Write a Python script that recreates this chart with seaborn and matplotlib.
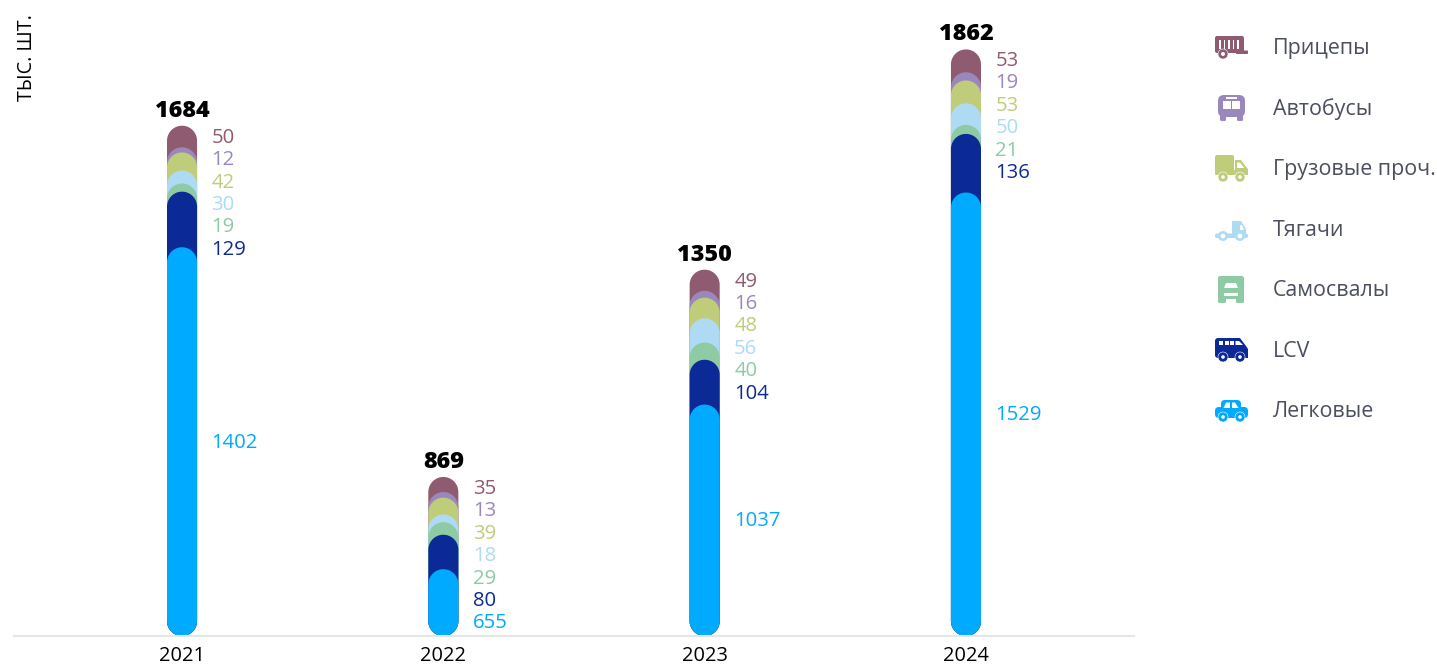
import numpy as np
import pandas as pd
import matplotlib
matplotlib.use('Agg')
import matplotlib.pyplot as plt
from matplotlib.patches import Circle, FancyBboxPatch, Polygon, Rectangle
import seaborn as sns

years = ['2021', '2022', '2023', '2024']
totals = [1684, 869, 1350, 1862]
# top of the stack first
types = ['Прицепы', 'Автобусы', 'Грузовые проч.', 'Тягачи', 'Самосвалы', 'LCV', 'Легковые']
trailers = [50, 35, 49, 53]
buses = [12, 13, 16, 19]
other_trucks = [42, 39, 48, 53]
tractors = [30, 18, 56, 50]
dumpers = [19, 29, 40, 21]
lcv = [129, 80, 104, 136]
cars = [1402, 655, 1037, 1529]
colors = ['#8f5b70', '#9a88bd', '#bfcd7a', '#aedaf4', '#8ecba5', '#0c2a96', '#00aaff']

series = [trailers, buses, other_trucks, tractors, dumpers, lcv, cars]
base = 500  # the value axis starts here, not at zero

sns.set_theme(style='white')
plt.rcParams['font.family'] = ['Open Sans', 'DejaVu Sans']

W, H = 1437, 665
fig = plt.figure(figsize=(W / 100, H / 100), dpi=100)
ax = fig.add_axes([14 / W, 1 - 636 / H, 1120 / W, 636 / H])

# each bar runs from the base up to the cumulative top of its series
rows = []
for i, y in enumerate(years):
    running = 0
    tops = []
    for s in series[::-1]:
        running += s[i]
        tops.append(running)
    for name, top in zip(types, tops[::-1]):
        rows.append({'year': y, 'type': name, 'top': top})
df = pd.DataFrame(rows)

sns.barplot(data=df, x='year', y='top', hue='type', hue_order=types, order=years,
            palette=colors, saturation=1, dodge=False, width=0.115, legend=False, ax=ax)

px_per_unit = 587 / (1862 - base)
ax.set_xlim(-0.643, 3.643)
ax.set_ylim(base, base + 636 / px_per_unit)
px_per_cat = 1120 / (ax.get_xlim()[1] - ax.get_xlim()[0])

# swap the plain bars for pill shapes, keeping their geometry
for bar in list(ax.patches):
    x0, w, top = bar.get_x(), bar.get_width(), bar.get_height()
    col = bar.get_facecolor()
    z = bar.get_zorder()
    bar.remove()
    r = w / 2
    ry = r * px_per_cat / px_per_unit
    t = np.linspace(0, np.pi, 60)
    xs = np.r_[x0 + r + r * np.cos(t), x0 + r - r * np.cos(t)]
    ys = np.r_[top - ry + ry * np.sin(t), base + ry - ry * np.sin(t)]
    ax.fill(xs, ys, color=col, lw=0, zorder=z)

for sp in ['top', 'left', 'right']:
    ax.spines[sp].set_visible(False)
ax.spines['bottom'].set_color('#e4e6ea')
ax.spines['bottom'].set_linewidth(1.5)
ax.set_xlabel('')
ax.set_ylabel('')
ax.set_yticks([])
ax.tick_params(axis='x', length=0, pad=7, labelsize=14.4, labelcolor='black')

step = 22.4
for i, y in enumerate(years):
    ax.annotate(str(totals[i]), xy=(i, totals[i]), xytext=(0, 15), textcoords='offset pixels',
                ha='center', va='center', fontsize=16.8, fontweight=800, color='black')
    offset = 12
    for j, s in enumerate(series):
        if j == len(series) - 1:
            # cars sit mid-bar unless the stack of labels has already run past that
            mid = (totals[i] - base - (cars[i] - base) / 2) * px_per_unit
            offset = max(offset, mid + 1)
        ax.annotate(str(s[i]), xy=(i, totals[i]), xytext=(29.5, -offset), textcoords='offset pixels',
                    ha='left', va='center', fontsize=14.6, color=colors[j])
        offset += step

fig.text(27 / W, 1 - 14 / H, 'ТЫС. ШТ.', rotation=90, ha='center', va='top', fontsize=14.2, color='black')

# legend with hand drawn vehicle icons, in pixel coordinates
lax = fig.add_axes([0, 0, 1, 1], facecolor='none')
lax.set_xlim(0, W)
lax.set_ylim(H, 0)
lax.axis('off')


def box(cx, cy, x0, y0, x1, y1, col, rnd=1.5):
    lax.add_patch(FancyBboxPatch((cx + x0, cy + y0), x1 - x0, y1 - y0, lw=0, fc=col,
                                 boxstyle=f'round,pad=0,rounding_size={rnd}'))


def wheel(cx, cy, x, y, col, r=4.5, hole=1.7, ring=0.0):
    lax.add_patch(Circle((cx + x, cy + y), r, fc=col, ec='white', lw=ring))
    lax.add_patch(Circle((cx + x, cy + y), hole, fc='white', lw=0))


def poly(cx, cy, pts, col):
    lax.add_patch(Polygon([(cx + a, cy + b) for a, b in pts], fc=col, lw=0))


def slit(cx, cy, x0, y0, x1, y1):
    lax.add_patch(Rectangle((cx + x0, cy + y0), x1 - x0, y1 - y0, fc='white', lw=0))


def icon_trailer(cx, cy, c):
    box(cx, cy, -16, -11, 13, 6, c, 2)
    box(cx, cy, 5, 3.5, 17, 7, c, 0.8)
    for a in [-12, -7.5, -3, 1.5, 6]:
        slit(cx, cy, a, -7, a + 1.6, 2)
    wheel(cx, cy, -8, 7, c, 5, 2, 0.4)


def icon_bus(cx, cy, c):
    box(cx, cy, -13, -13, 14, 9, c, 6)
    box(cx, cy, -11, 6, -5, 13, c, 1.5)
    box(cx, cy, 6, 6, 12, 13, c, 1.5)
    slit(cx, cy, -8, -7, 0, 1)
    slit(cx, cy, 1, -7, 9, 1)
    slit(cx, cy, -5, -11, 6, -9.5)


def icon_cargo(cx, cy, c):
    box(cx, cy, -16, -13, 3, 6, c, 2)
    poly(cx, cy, [(4, -8), (10, -8), (15, -1), (17, 1), (17, 7), (4, 7)], c)
    poly(cx, cy, [(6, -5.5), (9, -5.5), (13, 0), (6, 0)], 'white')
    box(cx, cy, -16, 2, 17, 7, c, 1.5)
    wheel(cx, cy, -8, 9, c, 5, 1.8, 0.4)
    wheel(cx, cy, 9, 9, c, 5, 1.8, 0.4)


def icon_tractor(cx, cy, c):
    box(cx, cy, -16, 4.5, 17, 9, c, 2)
    poly(cx, cy, [(1, -8), (10, -8), (15, 0), (15, 7), (1, 7)], c)
    poly(cx, cy, [(9, -4), (11, -4), (13, 1), (9, 1)], 'white')
    wheel(cx, cy, -8, 7, c, 5, 2.4)
    wheel(cx, cy, 9, 7, c, 5, 2.4)


def icon_dump(cx, cy, c):
    box(cx, cy, -13, -13, 13, 10, c, 2.5)
    box(cx, cy, -13, 7, -5, 14, c, 1.5)
    box(cx, cy, 5, 7, 13, 14, c, 1.5)
    poly(cx, cy, [(-7, -1), (-5, -6), (5, -6), (7, -1)], 'white')
    slit(cx, cy, -7, 4, 7, 6.5)


def icon_lcv(cx, cy, c):
    box(cx, cy, -16, -12, 8, 8, c, 3)
    poly(cx, cy, [(4, -12), (9, -12), (15, -4), (17, -1), (17, 8), (4, 8)], c)
    for a in [-12, -6.5, -1]:
        slit(cx, cy, a, -9, a + 4, -5)
    poly(cx, cy, [(4.5, -9), (8, -9), (12, -5), (4.5, -5)], 'white')
    wheel(cx, cy, -8, 7, c, 5, 1.8, 0.4)
    wheel(cx, cy, 9, 7, c, 5, 1.8, 0.4)


def icon_car(cx, cy, c):
    box(cx, cy, -16, -3, 17, 8, c, 4)
    box(cx, cy, -10, -10, 10, 2, c, 4)
    poly(cx, cy, [(-7.5, -2), (-5, -7.5), (-1, -7.5), (-1, -2)], 'white')
    poly(cx, cy, [(1, -2), (1, -7.5), (4, -7.5), (7.5, -2)], 'white')
    wheel(cx, cy, -8, 7, c, 5, 1.8, 0.4)
    wheel(cx, cy, 9, 7, c, 5, 1.8, 0.4)


icons = [icon_trailer, icon_bus, icon_cargo, icon_tractor, icon_dump, icon_lcv, icon_car]
legend_y = [47, 108, 168, 229, 289, 350, 410]
for name, col, draw, ly in zip(types, colors, icons, legend_y):
    draw(1231, ly, col)
    lax.text(1273, ly + 1.5, name, ha='left', va='center', fontsize=15.4, color='#4b4f5e')

fig.savefig('out.png', dpi=100)
